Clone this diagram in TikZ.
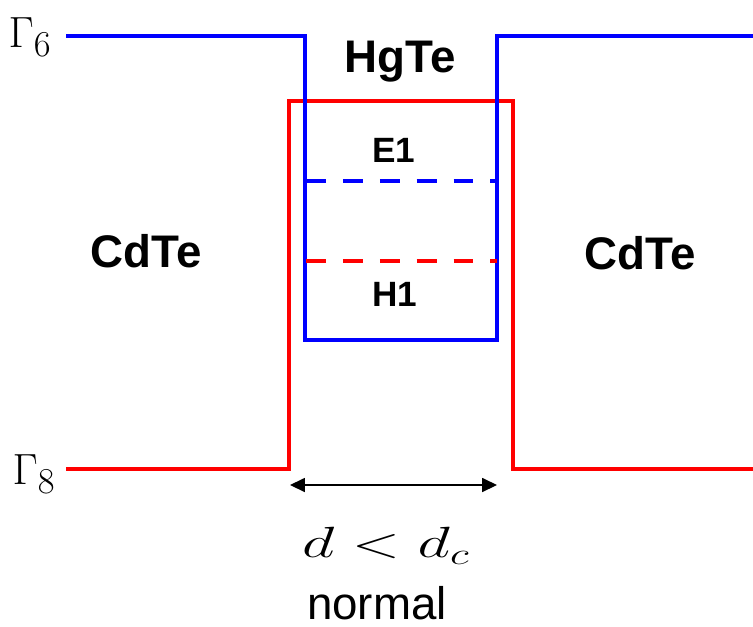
\documentclass[tikz,border=0pt]{standalone}
\usepackage{fontspec}
\setsansfont{Liberation Sans}
\usetikzlibrary{arrows.meta}

\begin{document}
\begin{tikzpicture}[x=0.02cm,y=-0.02cm,
  cband/.style={draw=blue,line width=2.2pt},
  vband/.style={draw=red,line width=2.2pt},
  sublevel/.style={dash pattern=on 11.3pt off 9.7pt},
  layer/.style={font=\sffamily\bfseries\fontsize{26}{30}\selectfont,inner sep=0pt},
  state/.style={font=\sffamily\bfseries\fontsize{20}{24}\selectfont,inner sep=0pt},
  gamma/.style={font=\fontsize{32}{38}\selectfont,inner sep=0pt}]
\useasboundingbox (0,0) rectangle (753,626);
% band edges
\draw[vband] (66,469) -- (289,469) -- (289,101) -- (513,101) -- (513,469) -- (753,469);
\draw[cband] (66,36) -- (305,36) -- (305,340) -- (497,340) -- (497,36) -- (753,36);
% sub-band levels
\draw[cband,sublevel] (306,181) -- (497,181);
\draw[vband,sublevel] (306,261) -- (497,261);
% labels
\node[gamma] (g6) at (30,37) {$\Gamma_6$};
\node[gamma] (g8) at (34,474) {$\Gamma_8$};
\node[layer] (hgte) at (400,62) {HgTe};
\node[layer] (cdteL) at (146,251) {CdTe};
\node[layer] (cdteR) at (640,253) {CdTe};
\node[state] (e1) at (394,150) {E1};
\node[state] (h1) at (395,294) {H1};
% well width
\coordinate (wl) at (290,485);
\coordinate (wr) at (497,485);
\draw[{Triangle[length=8.5pt,width=8pt]}-{Triangle[length=8.5pt,width=8pt]},line width=0.8pt] (wl) -- (wr);
\node[font=\fontsize{24}{28}\selectfont,inner sep=0pt] (cond) at (386,546) {\scalebox{1.45}[1]{$d<d_c$}};
\node[font=\sffamily\fontsize{26}{30}\selectfont,inner sep=0pt] (mode) at (377,603) {normal};
\end{tikzpicture}
\end{document}
